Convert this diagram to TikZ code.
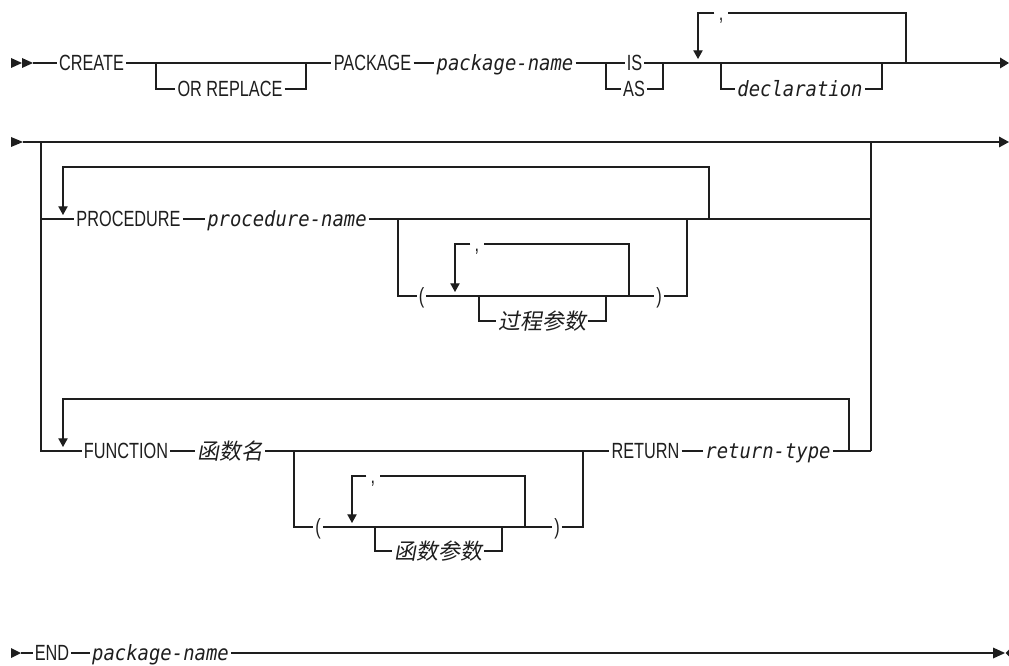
\documentclass[tikz,border=0pt]{standalone}
\usepackage{fontspec}
\usetikzlibrary{arrows.meta}
\newfontfamily\rrroman{Liberation Sans}[FakeStretch=0.74]
\newfontfamily\rrmono{DejaVu Sans Mono}[FakeStretch=0.9]
\newfontfamily\rrcjk{Noto Sans CJK SC}[FakeSlant=0.18]
\newcommand\kwfont{\rrroman\fontsize{16.5pt}{19pt}\selectfont}
\newcommand\varfont{\rrmono\itshape\fontsize{15.75pt}{18pt}\selectfont}
\newcommand\cjkfont{\rrcjk\fontsize{16.5pt}{19pt}\selectfont}
\definecolor{ink}{HTML}{1E1E1E}
\tikzset{
  rr/.style={line width=0.85pt, draw=ink},
  kw/.style={font=\kwfont, text=ink, inner xsep=1.5pt, inner ysep=0pt, text height=11.8pt, text depth=0pt},
  var/.style={font=\varfont, text=ink, inner xsep=1.5pt, inner ysep=0pt, text height=11.3pt, text depth=0pt},
  cjk/.style={font=\cjkfont, text=ink, inner xsep=1.5pt, inner ysep=0pt, text height=12.5pt, text depth=0pt},
  sep/.style={font=\kwfont, text=ink, inner xsep=3pt, inner ysep=0pt, text height=11.8pt, text depth=0pt},
  down/.style={rr, -{Triangle[width=7pt,length=6.5pt]}},
  tipfill/.style={fill=ink, draw=none}
}
\begin{document}
\begin{tikzpicture}[x=0.75pt, y=-0.75pt]
\useasboundingbox (0,0) rectangle (1009,666);

% ---------------- Row 1 ----------------
\fill[tipfill] (11,58) -- (22,63) -- (11,68) -- cycle;
\fill[tipfill] (22,58) -- (33,63) -- (22,68) -- cycle;
\coordinate (r1s) at (33,63);
\node[kw] (create) at (91.5,63) {CREATE};
\node[kw] (orrep) at (230,89) {OR REPLACE};
\node[kw] (package) at (372.5,63) {PACKAGE};
\node[var] (pkgname) at (505,63) {package-name};
\node[kw] (is) at (634.5,63) {IS};
\node[kw] (as) at (634,89) {AS};
\node[sep] (comma1) at (721,13) {,};
\node[var] (decl) at (800,89) {declaration};

\coordinate (o1) at (156,63);
\coordinate (o2) at (306,63);
\coordinate (c1) at (606,63);
\coordinate (c2) at (663,63);
\coordinate (d1) at (721,63);
\coordinate (d2) at (882,63);
\coordinate (l2) at (906,63);
\coordinate (l2t) at (906,13);
\coordinate (l1e) at (698,59);
\coordinate (r1e) at (1000,63);

\draw[rr] (r1s) -- (create.west);
\draw[rr] (create.east) -- (o1) -- (o2) -- (package.west);
\draw[rr] (o1) |- (orrep.west);
\draw[rr] (orrep.east) -| (o2);
\draw[rr] (package.east) -- (pkgname.west);
\draw[rr] (pkgname.east) -- (c1) -- (is.west);
\draw[rr] (is.east) -- (c2);
\draw[rr] (c1) |- (as.west);
\draw[rr] (as.east) -| (c2);
\draw[rr] (c2) -- (d1) -- (d2) -- (l2) -- (r1e);
\draw[rr] (d1) |- (decl.west);
\draw[rr] (decl.east) -| (d2);
\draw[rr] (l2) -- (l2t) -- (comma1.east);
\draw[down] (comma1.west) -| (l1e);
\fill[tipfill] (1000,57.5) -- (1009,63) -- (1000,68.5) -- cycle;

% ---------------- Row 2 ----------------
\fill[tipfill] (11,137) -- (23,142) -- (11,147) -- cycle;
\coordinate (r2s) at (23,142);
\coordinate (ol) at (41,142);
\coordinate (or) at (871,142);
\coordinate (r2e) at (999,142);
\coordinate (olp) at (41,219);
\coordinate (olf) at (41,451);
\coordinate (orp) at (871,219);
\coordinate (orf) at (871,451);
\draw[rr] (r2s) -- (ol) -- (or) -- (r2e);
\fill[tipfill] (999,136.5) -- (1009,142) -- (999,147.5) -- cycle;

% procedure branch
\node[kw] (proc) at (128.5,219) {PROCEDURE};
\node[var] (procname) at (287,219) {procedure-name};
\node[kw] (lp1) at (421.5,296) {(};
\node[sep] (comma2) at (477,244) {,};
\node[cjk] (pparam) at (542,321) {过程参数};
\node[kw] (rp1) at (659,296) {)};

% function branch nodes
\node[kw] (func) at (126,451) {FUNCTION};
\node[cjk] (fname) at (230,451) {函数名};
\node[kw] (lp2) at (318,527) {(};
\node[sep] (comma3) at (373,476) {,};
\node[cjk] (fparam) at (438,551) {函数参数};
\node[kw] (rp2) at (557,527) {)};
\node[kw] (ret) at (645.5,451) {RETURN};
\node[var] (rettype) at (768,451) {return-type};

\coordinate (pg1) at (398,219);
\coordinate (pg2) at (687,219);
\coordinate (pl2) at (709,219);
\coordinate (pltop) at (63,167);
\coordinate (plend) at (63,215);
\coordinate (po1) at (479,296);
\coordinate (po2) at (606,296);
\coordinate (pil2) at (629,296);
\coordinate (pil2t) at (629,244);
\coordinate (pile) at (455,292);

\draw[rr] (ol) -- (olp) -- (olf) -- (func.west);
\draw[rr] (olp) -- (proc.west);
\draw[rr] (or) -- (orp) -- (orf);
\draw[rr] (proc.east) -- (procname.west);
\draw[rr] (procname.east) -- (pg1) -- (pg2) -- (pl2) -- (orp);
\draw[down] (pl2) |- (pltop) -- (plend);
\draw[rr] (pg1) |- (lp1.west);
\draw[rr] (rp1.east) -| (pg2);
\draw[rr] (lp1.east) -- (po1) -- (po2) -- (pil2) -- (rp1.west);
\draw[rr] (po1) |- (pparam.west);
\draw[rr] (pparam.east) -| (po2);
\draw[rr] (pil2) -- (pil2t) -- (comma2.east);
\draw[down] (comma2.west) -| (pile);

\coordinate (fg1) at (294,451);
\coordinate (fg2) at (583,451);
\coordinate (fl2) at (849,451);
\coordinate (fltop) at (63,399);
\coordinate (flend) at (63,447);
\coordinate (fo1) at (375,527);
\coordinate (fo2) at (502,527);
\coordinate (fil2) at (525,527);
\coordinate (fil2t) at (525,476);
\coordinate (file) at (352,523);

\draw[rr] (func.east) -- (fname.west);
\draw[rr] (fname.east) -- (fg1) -- (fg2) -- (ret.west);
\draw[rr] (ret.east) -- (rettype.west);
\draw[rr] (rettype.east) -- (fl2) -- (orf);
\draw[down] (fl2) |- (fltop) -- (flend);
\draw[rr] (fg1) |- (lp2.west);
\draw[rr] (rp2.east) -| (fg2);
\draw[rr] (lp2.east) -- (fo1) -- (fo2) -- (fil2) -- (rp2.west);
\draw[rr] (fo1) |- (fparam.west);
\draw[rr] (fparam.east) -| (fo2);
\draw[rr] (fil2) -- (fil2t) -- (comma3.east);
\draw[down] (comma3.west) -| (file);

% ---------------- Row 3 ----------------
\fill[tipfill] (11,648) -- (21,653) -- (11,658) -- cycle;
\coordinate (r3s) at (21,653);
\node[kw] (endkw) at (52,653) {END};
\node[var] (pkgname2) at (160.5,653) {package-name};
\coordinate (r3e) at (993,653);
\draw[rr] (r3s) -- (endkw.west);
\draw[rr] (endkw.east) -- (pkgname2.west);
\draw[rr] (pkgname2.east) -- (r3e);
\fill[tipfill] (993,647.5) -- (1005,653) -- (993,658.5) -- cycle;
\fill[tipfill] (1009,649.5) -- (1005.5,653) -- (1009,656.5) -- cycle;
\end{tikzpicture}
\end{document}
